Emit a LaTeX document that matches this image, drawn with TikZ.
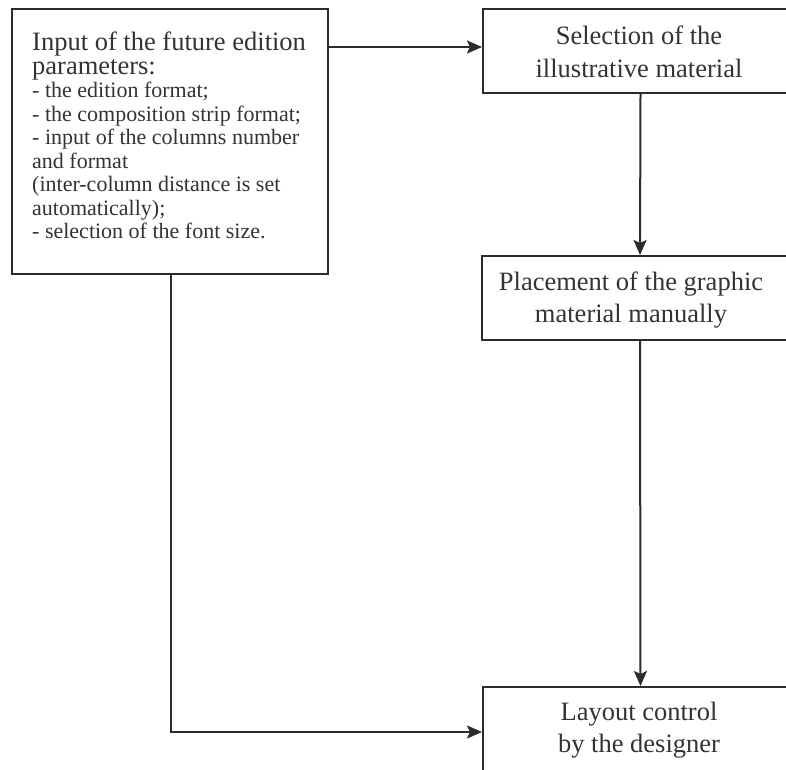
\documentclass[tikz,border=0pt]{standalone}
\usepackage{fontspec}
\setmainfont{Liberation Serif}
\usetikzlibrary{arrows.meta}
\definecolor{ink}{HTML}{2B2B2B}
\definecolor{txt}{HTML}{333333}
\newcommand{\bigline}{\fontsize{26.5}{23.5}\selectfont}
\tikzset{
  box/.style={draw=ink, line width=2pt, rectangle, inner sep=0pt, anchor=north west},
  arr/.style={draw=ink, line width=2pt, -{Stealth[length=15pt,width=13pt,inset=3pt]}},
  big/.style={text=txt, inner sep=0pt, font=\fontsize{26.5}{32.5}\selectfont, align=center},
  lefttxt/.style={text=txt, inner sep=0pt, align=left, anchor=north west, font=\fontsize{22}{23.5}\selectfont}
}
\begin{document}
\begin{tikzpicture}[x=1pt,y=-1pt]
\useasboundingbox (0,0) rectangle (786,769);
\clip (0,0) rectangle (786,769);
% boxes
\node[box, minimum width=316pt, minimum height=265pt] (inp) at (11,8) {};
\node[box, minimum width=315pt, minimum height=84pt] (sel) at (482,8) {};
\node[box, minimum width=316pt, minimum height=84pt] (pla) at (481,255) {};
\node[box, minimum width=315pt, minimum height=130pt] (lay) at (482,686) {};
% texts
\node[lefttxt] (inpT) at (32,32) {\bigline Input of the future edition\\
\bigline parameters:\\
- the edition format;\\
- the composition strip format;\\
- input of the columns number\\
and format\\
(inter-column distance is set\\
automatically);\\
- selection of the font size.};
\node[big] (selT) at (639,52) {Selection of the\\illustrative material};
\node[big] (plaT) at (631,300) {Placement of the graphic\\material manually};
\node[big] (layT) at (639,730) {Layout control\\by the designer};
% connectors
\coordinate (h1) at (0,47);
\coordinate (c1) at (171,732);
\draw[arr] (inp.east |- h1) -- (sel.west |- h1);
\draw[arr] (sel.south) -- (pla.north);
\draw[arr] (pla.south) -- (lay.north);
\draw[arr] (inp.south -| c1) -- (c1) -- (lay.west |- c1);
\end{tikzpicture}
\end{document}
